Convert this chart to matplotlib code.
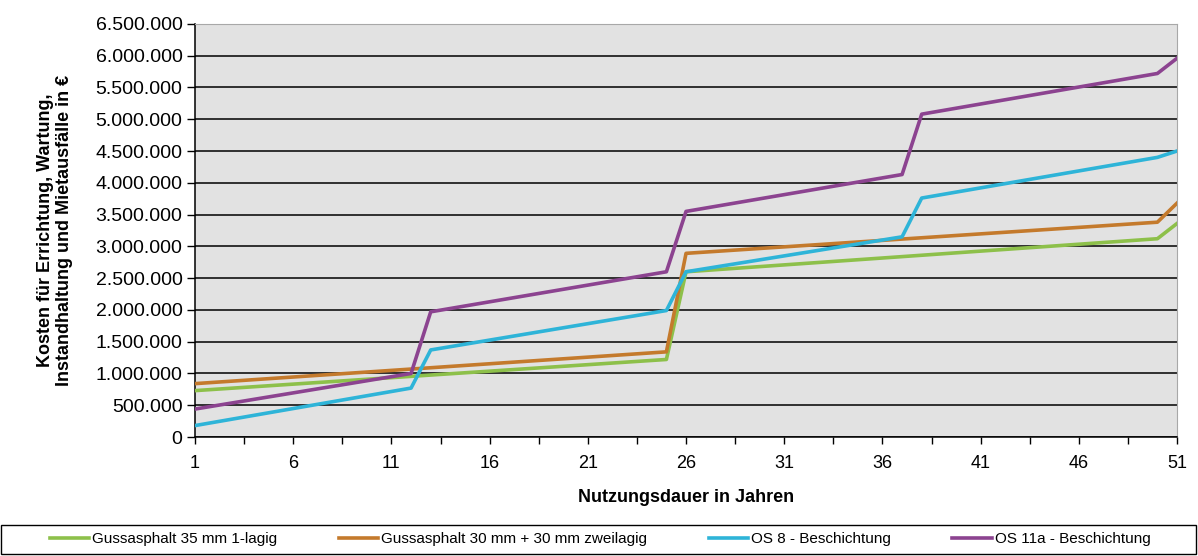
import matplotlib
matplotlib.use("Agg")
import matplotlib.pyplot as plt
from matplotlib.ticker import FuncFormatter, MultipleLocator
from matplotlib.patches import Rectangle

# Nutzungsdauer (Jahre) an den Knickpunkten und Kosten in Mio. EUR
jahre_gussasphalt = [1, 25, 26, 50, 51]
kosten_guss_35 = [0.73, 1.22, 2.60, 3.12, 3.36]
kosten_guss_30_30 = [0.84, 1.34, 2.89, 3.38, 3.68]

jahre_os = [1, 12, 13, 25, 26, 37, 38, 50, 51]
kosten_os_8 = [0.18, 0.77, 1.37, 1.99, 2.60, 3.15, 3.76, 4.40, 4.50]
kosten_os_11a = [0.44, 1.00, 1.97, 2.60, 3.55, 4.13, 5.08, 5.72, 5.96]

namen = ["Gussasphalt 35 mm 1-lagig", "Gussasphalt 30 mm + 30 mm zweilagig",
         "OS 8 - Beschichtung", "OS 11a - Beschichtung"]
farben = ["#8dc04a", "#c47a2c", "#2eb4d8", "#8c4390"]
x_ticks = [1, 6, 11, 16, 21, 26, 31, 36, 41, 46, 51]

plt.rcParams["font.family"] = ["Liberation Sans", "DejaVu Sans"]

fig = plt.figure(figsize=(11.98, 5.56), dpi=100)
ax = fig.add_axes([0.1628, 0.214, 0.8197, 0.743])
ax.set_facecolor("#e2e2e2")

ax.plot(jahre_gussasphalt, [v * 1e6 for v in kosten_guss_35], color=farben[0], lw=2.6, label=namen[0], zorder=3)
ax.plot(jahre_gussasphalt, [v * 1e6 for v in kosten_guss_30_30], color=farben[1], lw=2.6, label=namen[1], zorder=3)
ax.plot(jahre_os, [v * 1e6 for v in kosten_os_8], color=farben[2], lw=2.6, label=namen[2], zorder=3)
ax.plot(jahre_os, [v * 1e6 for v in kosten_os_11a], color=farben[3], lw=2.6, label=namen[3], zorder=3)

ax.set_xlim(1, 51)
ax.set_ylim(0, 6500000)
ax.yaxis.set_major_locator(MultipleLocator(500000))
ax.yaxis.set_major_formatter(FuncFormatter(lambda v, p: f"{int(v):,}".replace(",", ".")))
ax.grid(axis="y", color="black", lw=1.1, zorder=1)
ax.set_axisbelow(True)

ax.set_xticks(x_ticks)
ax.set_xticks([t + 2.5 for t in x_ticks[:-1]], minor=True)
ax.tick_params(axis="x", which="both", direction="out", length=5, width=1, pad=8, labelsize=13)
ax.tick_params(axis="y", direction="out", length=6, width=1, labelsize=14, pad=3)

for s in ["top", "right"]:
    ax.spines[s].set_color("#a8a8a8")
for s in ["left", "bottom"]:
    ax.spines[s].set_color("black")
    ax.spines[s].set_linewidth(1.1)

ax.set_xlabel("Nutzungsdauer in Jahren", fontsize=13, fontweight="bold", labelpad=12)
ax.set_ylabel("Kosten für Errichtung, Wartung,\nInstandhaltung und Mietausfälle in €",
              fontsize=13, fontweight="bold", labelpad=16)

# Legendenrahmen ueber die ganze Breite
fig.patches.append(Rectangle((0.001, 0.004), 0.997, 0.052, transform=fig.transFigure,
                             fill=False, edgecolor="black", lw=1.0))
fig.legend(loc="center left", bbox_to_anchor=(0.03, 0.03), ncol=4, frameon=False,
           prop={"size": 11}, handlelength=2.6, handletextpad=0.2,
           columnspacing=4.0)

fig.savefig("out.png", dpi=100)
